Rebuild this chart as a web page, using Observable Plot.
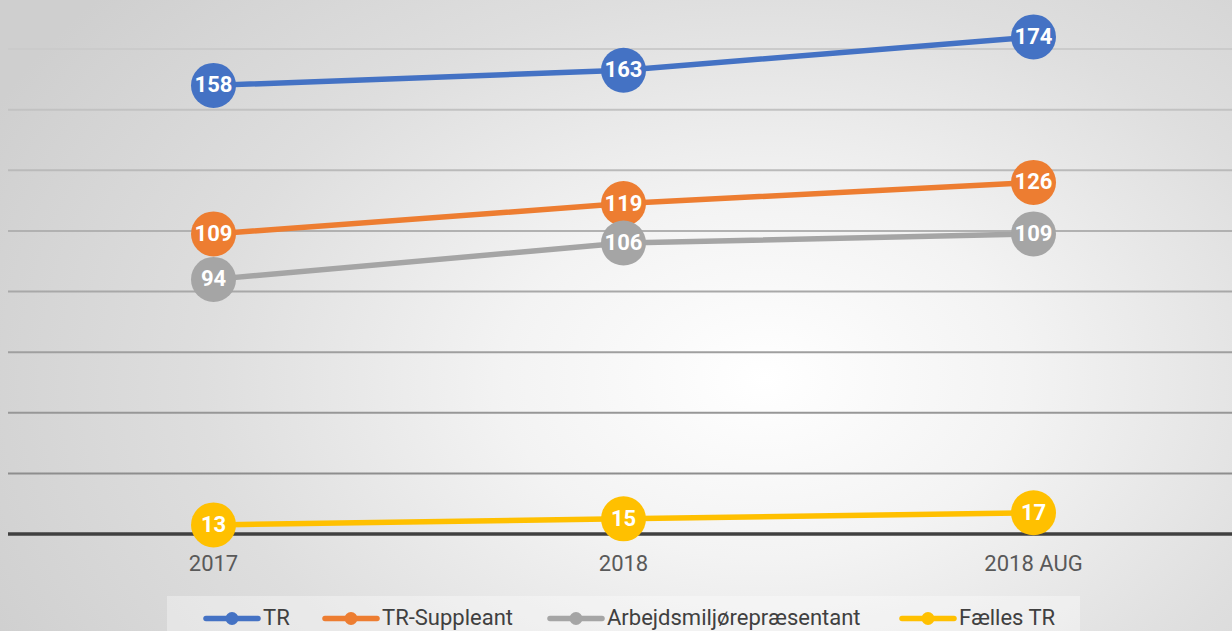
<!DOCTYPE html>
<html>
<head>
<meta charset="utf-8">
<script src="https://cdn.jsdelivr.net/npm/d3@7"></script>
<script src="https://cdn.jsdelivr.net/npm/@observablehq/plot@0.6"></script>
<style>
  html, body { margin: 0; padding: 0; }
  #wrap {
    position: relative; width: 1232px; height: 631px; overflow: hidden;
    background: radial-gradient(ellipse 70% 95% at 62% 60%, #ffffff 0%, #f3f3f3 30%, #dedede 65%, #cfcfcf 100%);
    font-family: Roboto, sans-serif;
  }
  #chart svg { display: block; }
  #legend {
    position: absolute; left: 167px; top: 596px; width: 913px; height: 40px;
    background: rgba(255,255,255,0.35);
  }
  .item { position: absolute; top: 4px; height: 35px; display: flex; align-items: center; white-space: nowrap; }
  .item span { font-size: 22px; color: #404040; margin-left: 2px; line-height: 1; }
</style>
</head>
<body>
<div id="wrap">
  <div id="chart"></div>
  <div id="legend"></div>
</div>
<script>
const categories = ["2017", "2018", "2018 AUG"];
const seriesNames = ["TR", "TR-Suppleant", "Arbejdsmiljørepræsentant", "Fælles TR"];
const trValues = [158, 163, 174];
const trSuppleantValues = [109, 119, 126];
const arbejdsmiljoValues = [94, 106, 109];
const faellesTrValues = [13, 15, 17];
const gridValues = [30, 50, 70, 90, 110, 130, 150, 170];
const axisMin = 10;

const seriesColors = ["#4472C4", "#ED7D31", "#A5A5A5", "#FFC000"];
const allValues = [trValues, trSuppleantValues, arbejdsmiljoValues, faellesTrValues];

const series = seriesNames.map((name, i) => ({
  name,
  color: seriesColors[i],
  rows: categories.map((c, j) => ({cat: c, value: allValues[i][j], series: name}))
}));

const gridColor = d3.scaleLinear().domain([30, 170]).range(["#8e8e8e", "#cbcbcb"]);

const marks = [
  Plot.ruleY(gridValues, {stroke: d => gridColor(d), strokeWidth: 2}),
  Plot.ruleY([axisMin], {stroke: "#404040", strokeWidth: 3.5}),
  Plot.axisX({tickSize: 0, tickPadding: 21, fontSize: 22, fill: "#595959", label: null})
];
for (const s of series) {
  marks.push(Plot.line(s.rows, {x: "cat", y: "value", stroke: s.color, strokeWidth: 5.5}));
  marks.push(Plot.dot(s.rows, {x: "cat", y: "value", r: 22.5, fill: s.color, stroke: "none"}));
}
for (const s of series) {
  marks.push(Plot.text(s.rows, {x: "cat", y: "value", text: d => String(d.value), fill: "white",
    fontWeight: "bold", fontSize: 22, fontFamily: "Roboto"}));
}

const chart = Plot.plot({
  width: 1232,
  height: 596,
  marginLeft: 8,
  marginRight: -6,
  marginTop: 0,
  marginBottom: 62.5,
  style: {background: "transparent", fontFamily: "Roboto", overflow: "hidden"},
  x: {type: "point", domain: categories, padding: 0.5, axis: null, label: null},
  y: {domain: [axisMin, 186], axis: null},
  marks
});
document.getElementById("chart").appendChild(chart);

// legend
const legendLefts = [36, 155, 380, 732];
const legend = document.getElementById("legend");
series.forEach((s, i) => {
  const div = document.createElement("div");
  div.className = "item";
  div.style.left = legendLefts[i] + "px";
  div.innerHTML = `<svg width="58" height="16" style="display:block"><line x1="3" y1="8.5" x2="55" y2="8.5" stroke="${s.color}" stroke-width="5.5" stroke-linecap="round"/><circle cx="29" cy="8.5" r="6.5" fill="${s.color}"/></svg><span>${s.name}</span>`;
  legend.appendChild(div);
});
</script>
</body>
</html>
